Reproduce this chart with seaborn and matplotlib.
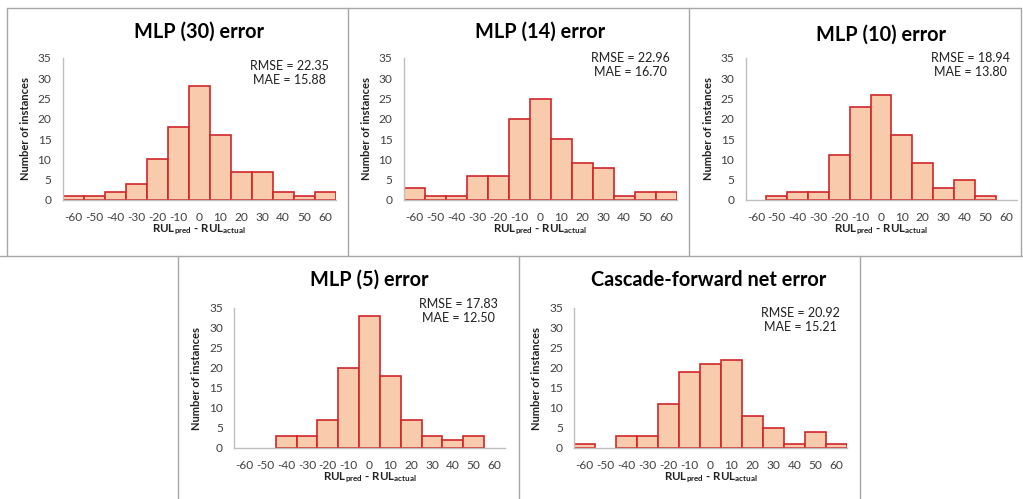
import matplotlib
matplotlib.use("Agg")
import matplotlib.pyplot as plt
import seaborn as sns
import pandas as pd
from matplotlib.lines import Line2D

sns.set_theme(style="white")
plt.rcParams['font.family'] = ['Lato', 'DejaVu Sans']
plt.rcParams['mathtext.fontset'] = 'custom'
plt.rcParams['mathtext.rm'] = 'Lato'
plt.rcParams['mathtext.bf'] = 'Lato:bold'

# ---- data ----
bins = [-60, -50, -40, -30, -20, -10, 0, 10, 20, 30, 40, 50, 60]
mlp30 = [1, 1, 2, 4, 10, 18, 28, 16, 7, 7, 2, 1, 2]
mlp14 = [3, 1, 1, 6, 6, 20, 25, 15, 9, 8, 1, 2, 2]
mlp10 = [0, 1, 2, 2, 11, 23, 26, 16, 9, 3, 5, 1, 0]
mlp5 = [0, 0, 3, 3, 7, 20, 33, 18, 7, 3, 2, 3, 0]
cascade = [1, 0, 3, 3, 11, 19, 21, 22, 8, 5, 1, 4, 1]
titles = ["MLP (30) error", "MLP (14) error", "MLP (10) error",
          "MLP (5) error", "Cascade-forward net error"]
rmse = [22.35, 22.96, 18.94, 17.83, 20.92]
mae = [15.88, 16.70, 13.80, 12.50, 15.21]
series = [mlp30, mlp14, mlp10, mlp5, cascade]

W, H = 1023, 499
fig = plt.figure(figsize=(W / 100, H / 100), dpi=100)

# axes boxes in pixels: (left, right, top, bottom)
boxes = [(62.5, 335.5, 58, 200), (403.5, 676.5, 58, 200), (745.5, 1016.5, 58, 200),
         (234, 505, 308, 448), (574, 847, 308, 448)]
title_y = [32, 32, 35, 280, 280]
stat_y = [60, 52, 52, 298, 307]

fill = '#f8cbad'
edge = '#d0262a'
gray = '#bfbfbf'
tcol = '#404040'

for i, (l, r, t, b) in enumerate(boxes):
    ax = fig.add_axes([l / W, 1 - b / H, (r - l) / W, (b - t) / H])
    df = pd.DataFrame({"bin": bins, "count": series[i]})
    sns.barplot(data=df, x="bin", y="count", order=bins, width=1.0,
                color=fill, saturation=1, edgecolor=edge, linewidth=1.2, ax=ax)
    for p in ax.patches:
        if p.get_height() == 0:
            p.set_linewidth(0)
    ax.set_xlim(-0.5, len(bins) - 0.5)
    ax.set_ylim(0, 35)
    ax.set_yticks(range(0, 36, 5))
    ax.set_xticks(range(len(bins)))
    ax.set_xticklabels([str(v) for v in bins])
    ax.set_facecolor('none')
    for s in ['top', 'right']:
        ax.spines[s].set_visible(False)
    for s in ['left', 'bottom']:
        ax.spines[s].set_color(gray)
        ax.spines[s].set_linewidth(1.0)
    ax.tick_params(axis='x', direction='inout', length=5, width=0.8, color=gray,
                   labelsize=8.6, labelcolor=tcol, pad=6)
    ax.tick_params(axis='y', direction='out', length=3, width=0.8, color=gray,
                   labelsize=8.6, labelcolor=tcol, pad=5)
    ax.set_xlabel(r'$\mathbf{RUL_{pred}}$ - $\mathbf{RUL_{actual}}$', fontsize=8.3,
                  color='#202020', labelpad=0, fontweight='bold')
    ax.set_ylabel("Number of instances", fontsize=8, fontweight='bold',
                  color='#202020', labelpad=5)
    cx = (l + r) / 2
    fig.text(cx / W if i != 4 else (cx - 2) / W, 1 - title_y[i] / H, titles[i],
             fontsize=14.3, fontweight='bold', ha='center', va='center', color='black')
    ax.text(0.83, (b - stat_y[i]) / (b - t), f"RMSE = {rmse[i]:.2f}\nMAE = {mae[i]:.2f}",
            transform=ax.transAxes, ha='center', va='top', multialignment='center',
            fontsize=9, color='#202020', linespacing=1.2)

# panel frames
def hline(x0, x1, y):
    fig.add_artist(Line2D([x0 / W, x1 / W], [1 - y / H, 1 - y / H], color='#a6a6a6', lw=1))

def vline(x, y0, y1):
    fig.add_artist(Line2D([x / W, x / W], [1 - y0 / H, 1 - y1 / H], color='#a6a6a6', lw=1))

hline(7, 1021, 8)
hline(0, 1023, 255.5)
vline(7, 8, 255.5)
vline(348, 8, 255.5)
vline(689, 8, 255.5)
vline(1021, 8, 255.5)
vline(178, 255.5, 499)
vline(519, 255.5, 499)
vline(860, 255.5, 499)

fig.savefig("out.png", dpi=100)
